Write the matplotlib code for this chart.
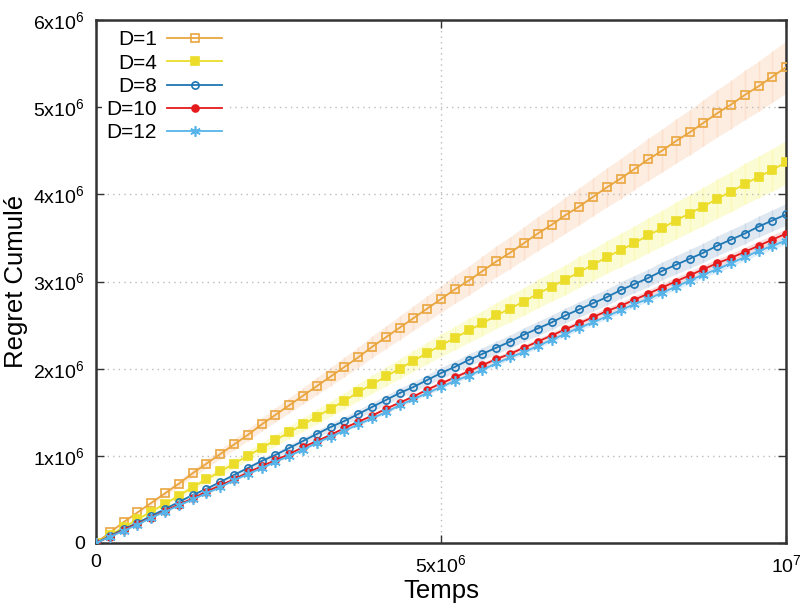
import numpy as np
import matplotlib
matplotlib.use("Agg")
import matplotlib.pyplot as plt
from matplotlib.ticker import FixedLocator

plt.rcParams["font.family"] = ["Liberation Sans", "DejaVu Sans"]
plt.rcParams["mathtext.fontset"] = "custom"
plt.rcParams["mathtext.rm"] = "Liberation Sans"
plt.rcParams["mathtext.it"] = "Liberation Sans"
plt.rcParams["mathtext.bf"] = "Liberation Sans"

# time steps (units of 1e6), one marker every 2e5
T = [i * 0.2 for i in range(51)]

# cumulative regret, units of 1e6
D1 = [0.00, 0.12, 0.24, 0.35, 0.46, 0.57, 0.68, 0.80, 0.91, 1.02,
      1.13, 1.24, 1.36, 1.47, 1.58, 1.69, 1.80, 1.91, 2.02, 2.13,
      2.25, 2.36, 2.47, 2.58, 2.69, 2.80, 2.91, 3.01, 3.12, 3.23,
      3.33, 3.44, 3.55, 3.65, 3.76, 3.86, 3.97, 4.08, 4.18, 4.29,
      4.40, 4.50, 4.61, 4.71, 4.82, 4.93, 5.03, 5.14, 5.24, 5.35, 5.46]
D4 = [0.00, 0.09, 0.18, 0.27, 0.36, 0.45, 0.54, 0.64, 0.73, 0.82,
      0.91, 1.00, 1.09, 1.18, 1.27, 1.36, 1.45, 1.54, 1.63, 1.73,
      1.82, 1.91, 2.00, 2.09, 2.18, 2.27, 2.35, 2.44, 2.52, 2.61,
      2.69, 2.77, 2.86, 2.94, 3.02, 3.11, 3.19, 3.28, 3.36, 3.44,
      3.53, 3.61, 3.70, 3.78, 3.86, 3.95, 4.03, 4.12, 4.20, 4.28, 4.37]
D8 = [0.00, 0.08, 0.16, 0.23, 0.31, 0.39, 0.47, 0.55, 0.62, 0.70,
      0.78, 0.86, 0.94, 1.01, 1.09, 1.17, 1.25, 1.33, 1.40, 1.48,
      1.56, 1.64, 1.72, 1.79, 1.87, 1.95, 2.02, 2.10, 2.17, 2.24,
      2.31, 2.39, 2.46, 2.53, 2.61, 2.68, 2.75, 2.82, 2.90, 2.97,
      3.04, 3.12, 3.19, 3.26, 3.33, 3.41, 3.48, 3.55, 3.63, 3.70, 3.77]
D10 = [0.00, 0.07, 0.15, 0.22, 0.29, 0.37, 0.44, 0.51, 0.59, 0.66,
       0.73, 0.81, 0.88, 0.95, 1.02, 1.10, 1.17, 1.24, 1.32, 1.39,
       1.46, 1.54, 1.61, 1.68, 1.76, 1.83, 1.90, 1.97, 2.04, 2.11,
       2.17, 2.24, 2.31, 2.38, 2.45, 2.52, 2.59, 2.66, 2.72, 2.79,
       2.86, 2.93, 3.00, 3.07, 3.14, 3.21, 3.27, 3.34, 3.41, 3.48, 3.55]
D12 = [0.00, 0.07, 0.14, 0.21, 0.29, 0.36, 0.43, 0.50, 0.57, 0.64,
       0.72, 0.79, 0.86, 0.93, 1.00, 1.07, 1.15, 1.22, 1.29, 1.36,
       1.43, 1.50, 1.58, 1.65, 1.72, 1.79, 1.86, 1.92, 1.99, 2.06,
       2.13, 2.19, 2.26, 2.33, 2.40, 2.47, 2.53, 2.60, 2.67, 2.74,
       2.80, 2.87, 2.94, 3.01, 3.08, 3.14, 3.21, 3.28, 3.35, 3.41, 3.47]

LABELS = ["D=1", "D=4", "D=8", "D=10", "D=12"]
SERIES = [D1, D4, D8, D10, D12]
# relative half-width of the shaded spread band
SPREAD = [0.055, 0.057, 0.033, 0.015, 0.012]

COLORS = ["#E9A63E", "#EBDD2A", "#1F77B4", "#E41A1C", "#56B4E9"]
BANDS = ["#FCE0CC", "#FAFAB8", "#CBD8E8", "#F6C2C2", "#C6E2F5"]
MARKERS = ["s", "s", "o", "o", (6, 2, 0)]
FILLED = [False, True, False, True, True]
MSIZE = [5.5, 5.5, 5.2, 5.0, 7.5]

fig = plt.figure(figsize=(8.03, 6.08), dpi=100)
ax = fig.add_axes([0.1196, 0.107, 0.8594, 0.860])

t = np.array(T) * 1e6
for vals, sp, bc in zip(SERIES, SPREAD, BANDS):
    v = np.array(vals) * 1e6
    ax.fill_between(t, v * (1 - sp), v * (1 + sp), color=bc, alpha=0.6,
                    linewidth=0, zorder=1)
    ax.vlines(t, v * (1 - sp), v * (1 + sp), color=bc, linewidth=1.0,
              zorder=1.5)

for vals, lab, c, m, f, ms in zip(SERIES, LABELS, COLORS, MARKERS, FILLED, MSIZE):
    v = np.array(vals) * 1e6
    ax.plot(t, v, color=c, linewidth=1.3, marker=m, markersize=ms,
            markerfacecolor=c if f else "none", markeredgecolor=c,
            markeredgewidth=1.2, label=lab, zorder=3)

ax.set_xlim(0, 1e7)
ax.set_ylim(0, 6e6)
ax.xaxis.set_major_locator(FixedLocator([0, 5e6, 1e7]))
ax.yaxis.set_major_locator(FixedLocator([i * 1e6 for i in range(7)]))
ax.set_xticklabels(["0", r"5x10$^{6}$", r"10$^{7}$"])
ax.set_yticklabels(["0"] + [rf"{i}x10$^{{6}}$" for i in range(1, 7)])
ax.tick_params(direction="in", length=6, width=1.0, labelsize=14,
               top=True, right=True, color="#333333", pad=8)

ax.grid(True, color="#bbbbbb", linestyle=(0, (1, 3)), linewidth=1.0, zorder=0)
for s in ax.spines.values():
    s.set_linewidth(1.8)
    s.set_color("#333333")

ax.set_xlabel("Temps", fontsize=18.5, labelpad=2)
ax.set_ylabel("Regret Cumulé", fontsize=18.5, labelpad=4)

leg = ax.legend(loc="upper left", markerfirst=False, frameon=True,
                fontsize=15, handlelength=2.6, handletextpad=0.5,
                labelspacing=0.2, borderaxespad=0.3, borderpad=0.2)
leg.get_frame().set_edgecolor("none")
leg.get_frame().set_facecolor("white")
leg.get_frame().set_alpha(1.0)
leg.set_zorder(5)

fig.savefig("out.png", dpi=100)
